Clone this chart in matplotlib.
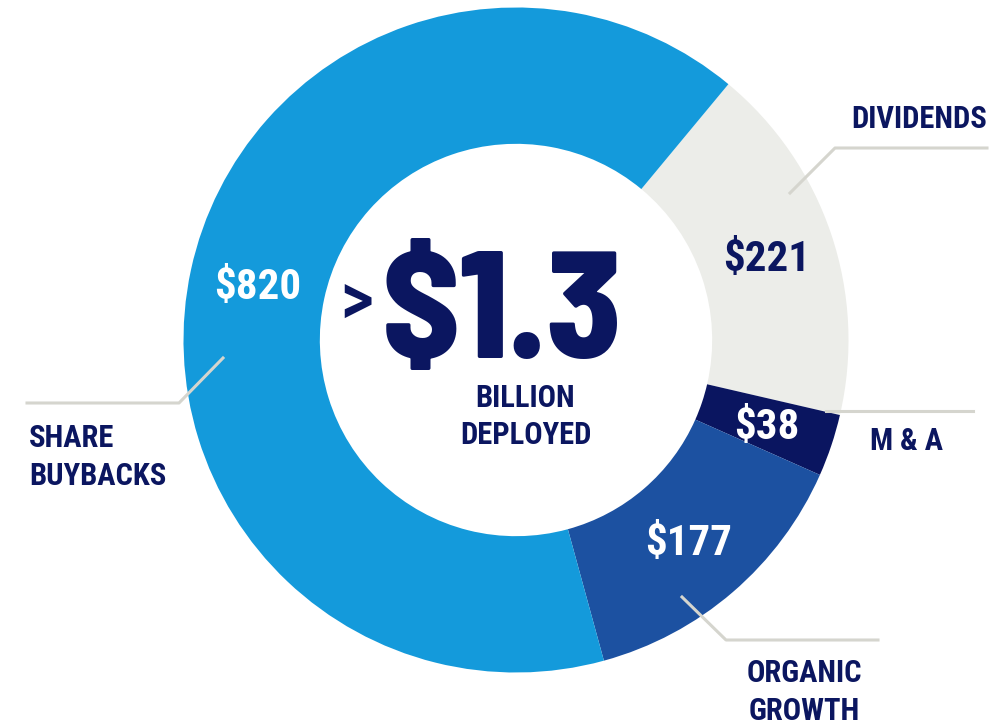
import numpy as np
import matplotlib.pyplot as plt

# capital deployed, $ millions (drawn clockwise from the top right)
segments = ["DIVIDENDS", "M & A", "ORGANIC\nGROWTH", "SHARE\nBUYBACKS"]
amounts = [221, 38, 177, 820]
value_labels = ["$221", "$38", "$177", "$820"]
colors = ["#ECEDE9", "#0A1560", "#1C51A1", "#149ADB"]
value_colors = ["#0B1660", "white", "white", "white"]
total_label = "$1.3"

navy = "#0B1660"
grey_line = "#D5D5CE"
font = ["Roboto Condensed", "Barlow Condensed", "DejaVu Sans"]
big_font = ["Barlow Semi Condensed", "Barlow Condensed", "DejaVu Sans"]

fig = plt.figure(figsize=(10.05, 7.21), dpi=100)
ax = fig.add_axes([0, 0, 1, 1])

cx, cy, R = 516, 340, 332.5
# y axis is flipped below, so counterclock in data = clockwise on screen
wedges, _ = ax.pie(amounts, colors=colors, startangle=-50.3, counterclock=True,
                   radius=R, center=(cx, cy),
                   wedgeprops=dict(width=R * 0.41, linewidth=0))

ax.set_xlim(0, 1005)
ax.set_ylim(721, 0)
ax.set_aspect("equal")
ax.axis("off")

# value labels at the middle of each ring segment
for w, lab, c in zip(wedges, value_labels, value_colors):
    mid = np.deg2rad((w.theta1 + w.theta2) / 2)
    r = R * 0.794
    ax.text(cx + r * np.cos(mid), cy + r * np.sin(mid) + 15, lab, color=c,
            fontsize=31, fontweight="bold", family=font,
            ha="center", va="baseline")

# centre text
ax.text(502, 358, total_label, color=navy, fontsize=109, fontweight=800,
        family=big_font, ha="center", va="baseline")
ax.text(356, 324, ">", color=navy, fontsize=54, fontweight=500,
        family=font, ha="center", va="baseline")
ax.text(525, 407, "BILLION", color=navy, fontsize=22, fontweight="bold",
        family=font, ha="center", va="baseline")
ax.text(526, 444, "DEPLOYED", color=navy, fontsize=22, fontweight="bold",
        family=font, ha="center", va="baseline")

# leader lines
lw = 2.2
ax.plot([790, 835, 987], [193, 148, 148], color=grey_line, lw=lw, zorder=5)
ax.plot([826, 973], [411, 411], color=grey_line, lw=lw, zorder=5)
ax.plot([682, 726, 878], [597, 640, 640], color=grey_line, lw=lw, zorder=5)
ax.plot([223, 179, 27], [358, 403, 403], color=grey_line, lw=lw, zorder=5)

# segment names, one text per line
kw = dict(color=navy, fontsize=22, fontweight="bold", family=font,
          va="baseline")
name_pos = [(987, 128, "right"), (906, 450, "center"),
            (804, 682, "center"), (29, 447, "left")]
for name, (x, y, ha) in zip(segments, name_pos):
    for i, line in enumerate(name.split("\n")):
        ax.text(x, y + i * 38, line, ha=ha, **kw)

fig.savefig("out.png", dpi=100, facecolor="white")
